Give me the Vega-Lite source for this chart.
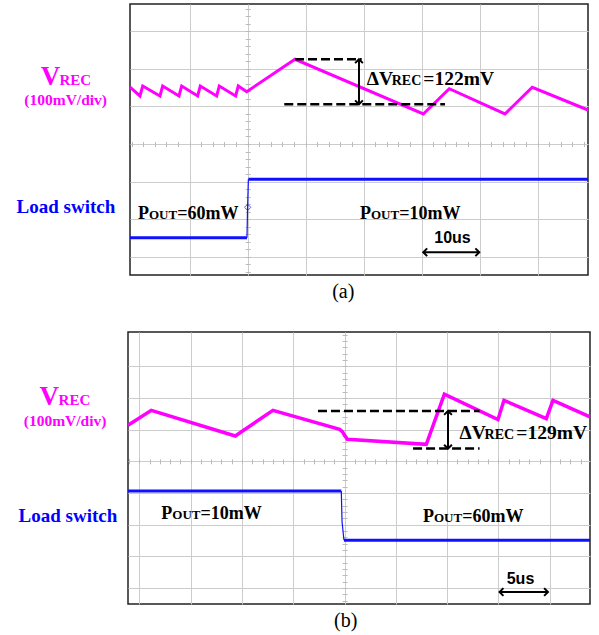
{
  "$schema": "https://vega.github.io/schema/vega-lite/v6.json",
  "padding": {"left": 15, "top": 3, "right": 0, "bottom": 0},
  "background": "white",
  "bounds": "flush",
  "center": true,
  "spacing": 57,
  "config": {
    "view": {"stroke": "#222222", "strokeWidth": 1.5},
    "axis": {"domain": false, "labels": false, "ticks": false, "grid": false, "gridColor": "#cccccc", "gridWidth": 1, "gridOpacity": 1, "tickColor": "#bbbbbb", "tickWidth": 1}
  },
  "vconcat": [
    {
      "width": 458,
      "height": 271,
      "encoding": {
        "x": {"field": "x", "type": "quantitative", "scale": {"domain": [-2.029, 5.868], "nice": false, "zero": false}, "axis": null},
        "y": {"field": "y", "type": "quantitative", "scale": {"domain": [-3.484, 3.723], "nice": false, "zero": false}, "axis": null}
      },
      "layer": [
        {
          "data": {"values": [
            {"x": -2.029, "y": 1.51}, {"x": -1.857, "y": 1.277}, {"x": -1.81, "y": 1.543}, {"x": -1.512, "y": 1.277}, {"x": -1.466, "y": 1.543},
            {"x": -1.184, "y": 1.277}, {"x": -1.138, "y": 1.543}, {"x": -0.862, "y": 1.277}, {"x": -0.817, "y": 1.543}, {"x": -0.534, "y": 1.277},
            {"x": -0.49, "y": 1.543}, {"x": -0.207, "y": 1.277}, {"x": -0.162, "y": 1.543}, {"x": -0.017, "y": 1.391}, {"x": 0.816, "y": 2.253},
            {"x": 3.028, "y": 0.798}, {"x": 3.476, "y": 1.471}, {"x": 4.436, "y": 0.798}, {"x": 4.907, "y": 1.508}, {"x": 5.868, "y": 0.904}
          ]},
          "mark": {"type": "line", "color": "#ff00ff", "strokeWidth": 3},
          "encoding": {
            "x": {"field": "x", "type": "quantitative", "scale": {"domain": [-2.029, 5.868], "nice": false, "zero": false}, "axis": {"grid": true, "title": null, "values": [-1, 0, 1, 2, 3, 4, 5]}},
            "y": {"field": "y", "type": "quantitative", "scale": {"domain": [-3.484, 3.723], "nice": false, "zero": false}, "axis": {"grid": true, "title": null, "values": [-3, -2, -1, 0, 1, 2, 3]}}
          }
        },
        {
          "data": {"values": [
            {"x": -2.029, "y": -2.492, "s": "lo"}, {"x": -0.012, "y": -2.492, "s": "lo"},
            {"x": 0.012, "y": -0.94, "s": "hi"}, {"x": 5.868, "y": -0.94, "s": "hi"}
          ]},
          "mark": {"type": "line", "color": "#1010ff", "strokeWidth": 3},
          "encoding": {
            "detail": {"field": "s"},
            "x": {"field": "x", "type": "quantitative", "scale": {"domain": [-2.029, 5.868], "nice": false, "zero": false},
              "axis": {"orient": "bottom", "offset": -133.5, "ticks": true, "tickSize": 5, "title": null,
                "values": [-2, -1.8, -1.6, -1.4, -1.2, -1, -0.8, -0.6, -0.4, -0.2, 0, 0.2, 0.4, 0.6, 0.8, 1, 1.2, 1.4, 1.6, 1.8, 2, 2.2, 2.4, 2.6, 2.8, 3, 3.2, 3.4, 3.6, 3.8, 4, 4.2, 4.4, 4.6, 4.8, 5, 5.2, 5.4, 5.6, 5.8]}},
            "y": {"field": "y", "type": "quantitative", "scale": {"domain": [-3.484, 3.723], "nice": false, "zero": false},
              "axis": {"orient": "left", "offset": -120.2, "ticks": true, "tickSize": 5, "title": null,
                "values": [-3.4, -3.2, -3, -2.8, -2.6, -2.4, -2.2, -2, -1.8, -1.6, -1.4, -1.2, -1, -0.8, -0.6, -0.4, -0.2, 0, 0.2, 0.4, 0.6, 0.8, 1, 1.2, 1.4, 1.6, 1.8, 2, 2.2, 2.4, 2.6, 2.8, 3, 3.2, 3.4, 3.6]}}
          }
        },
        {
          "data": {"values": [{"x": -0.012, "y": -2.492}, {"x": -0.002, "y": -1.7}, {"x": 0.012, "y": -0.94}]},
          "mark": {"type": "line", "color": "#1010ff", "strokeWidth": 1.2},
          "encoding": {}
        },
        {
          "data": {"values": [{"x": 0.0, "y": -1.684}]},
          "mark": {"type": "point", "shape": "diamond", "filled": false, "color": "#1010ff", "strokeWidth": 1, "size": 40},
          "encoding": {}
        },
        {
          "data": {"values": [{"x": 0.816, "x2": 1.966, "y": 2.253}, {"x": 0.631, "x2": 3.402, "y": 1.056}]},
          "mark": {"type": "rule", "color": "#000000", "strokeWidth": 2.5, "strokeDash": [9, 4]},
          "encoding": {"x2": {"field": "x2"}}
        },
        {
          "data": {"values": [{"x": 1.919, "x2": 1.919, "y": 2.253, "y2": 1.056}, {"x": 3.028, "x2": 3.993, "y": -2.88, "y2": -2.88}]},
          "mark": {"type": "rule", "color": "#000000", "strokeWidth": 2},
          "encoding": {"x2": {"field": "x2"}, "y2": {"field": "y2"}}
        },
        {
          "data": {"values": [{"x": 1.919, "y": 2.253, "d": "up"}, {"x": 1.919, "y": 1.056, "d": "down"}, {"x": 3.028, "y": -2.88, "d": "left"}, {"x": 3.993, "y": -2.88, "d": "right"}]},
          "mark": {"type": "point", "filled": false, "color": "#000000", "strokeWidth": 2, "size": 60, "opacity": 1},
          "encoding": {"shape": {"field": "d", "type": "nominal", "legend": null, "scale": {"domain": ["up", "down", "left", "right"], "range": ["M-1,1L0,0L1,1", "M-1,-1L0,0L1,-1", "M1,-1L0,0L1,1", "M-1,-1L0,0L-1,1"]}}}
        },
        {
          "data": {"values": [{"x": -3.569, "y": 1.569, "t": "V"}]},
          "mark": {"type": "text", "font": "Liberation Serif", "fontWeight": "bold", "fontSize": 27, "color": "#ff00ff", "align": "left", "baseline": "alphabetic"},
          "encoding": {"text": {"field": "t"}}
        },
        {
          "data": {"values": [{"x": -3.245, "y": 1.569, "t": "REC"}]},
          "mark": {"type": "text", "font": "Liberation Serif", "fontWeight": "bold", "fontSize": 15, "color": "#ff00ff", "align": "left", "baseline": "alphabetic"},
          "encoding": {"text": {"field": "t"}}
        },
        {
          "data": {"values": [{"x": -3.138, "y": 1.05, "t": "(100mV/div)"}]},
          "mark": {"type": "text", "font": "Liberation Serif", "fontWeight": "bold", "fontSize": 15.5, "color": "#ff00ff", "align": "center", "baseline": "alphabetic"},
          "encoding": {"text": {"field": "t"}}
        },
        {
          "data": {"values": [{"x": -3.133, "y": -1.848, "t": "Load switch"}]},
          "mark": {"type": "text", "font": "Liberation Serif", "fontWeight": "bold", "fontSize": 19, "color": "#0000ff", "align": "center", "baseline": "alphabetic"},
          "encoding": {"text": {"field": "t"}}
        },
        {
          "data": {"values": [{"x": 2.052, "y": 1.569, "t": "ΔV"}, {"x": 3.028, "y": 1.569, "t": "=122mV"}]},
          "mark": {"type": "text", "font": "Liberation Serif", "fontWeight": "bold", "fontSize": 19.5, "color": "#000000", "align": "left", "baseline": "alphabetic"},
          "encoding": {"text": {"field": "t"}}
        },
        {
          "data": {"values": [{"x": 2.483, "y": 1.569, "t": "REC"}]},
          "mark": {"type": "text", "font": "Liberation Serif", "fontWeight": "bold", "fontSize": 14, "color": "#000000", "align": "left", "baseline": "alphabetic"},
          "encoding": {"text": {"field": "t"}}
        },
        {
          "data": {"values": [{"x": -1.891, "y": -1.995, "t": "P"}, {"x": -1.216, "y": -1.995, "t": "=60mW"}, {"x": 1.936, "y": -1.995, "t": "P"}, {"x": 2.612, "y": -1.995, "t": "=10mW"}]},
          "mark": {"type": "text", "font": "Liberation Serif", "fontWeight": "bold", "fontSize": 18, "color": "#000000", "align": "left", "baseline": "alphabetic"},
          "encoding": {"text": {"field": "t"}}
        },
        {
          "data": {"values": [{"x": -1.702, "y": -1.995, "t": "OUT"}, {"x": 2.126, "y": -1.995, "t": "OUT"}]},
          "mark": {"type": "text", "font": "Liberation Serif", "fontWeight": "bold", "fontSize": 13, "color": "#000000", "align": "left", "baseline": "alphabetic"},
          "encoding": {"text": {"field": "t"}}
        },
        {
          "data": {"values": [{"x": 3.531, "y": -2.641, "t": "10us"}]},
          "mark": {"type": "text", "font": "Liberation Sans", "fontWeight": "bold", "fontSize": 16, "color": "#000000", "align": "center", "baseline": "alphabetic"},
          "encoding": {"text": {"field": "t"}}
        },
        {
          "data": {"values": [{"x": 1.648, "y": -4.096, "t": "(a)"}]},
          "mark": {"type": "text", "font": "Liberation Serif", "fontSize": 20, "color": "#000000", "align": "center", "baseline": "alphabetic"},
          "encoding": {"text": {"field": "t"}}
        }
      ],
      "resolve": {"axis": {"x": "independent", "y": "independent"}}
    },
    {
      "width": 462,
      "height": 272,
      "encoding": {
        "x": {"field": "x", "type": "quantitative", "scale": {"domain": [-4.222, 4.784], "nice": false, "zero": false}, "axis": null},
        "y": {"field": "y", "type": "quantitative", "scale": {"domain": [-4.502, 4.079], "nice": false, "zero": false}, "axis": null}
      },
      "layer": [
        {
          "data": {"values": [
            {"x": -4.222, "y": 1.136}, {"x": -3.768, "y": 1.609}, {"x": -2.131, "y": 0.798}, {"x": -1.396, "y": 1.609}, {"x": -0.097, "y": 1.009},
            {"x": -0.04, "y": 0.93}, {"x": -0.012, "y": 0.85}, {"x": 0.053, "y": 0.694}, {"x": 1.593, "y": 0.536}, {"x": 1.945, "y": 2.12},
            {"x": 2.99, "y": 1.315}, {"x": 3.107, "y": 1.924}, {"x": 3.932, "y": 1.347}, {"x": 4.062, "y": 1.924}, {"x": 4.784, "y": 1.4}
          ]},
          "mark": {"type": "line", "color": "#ff00ff", "strokeWidth": 3.5},
          "encoding": {
            "x": {"field": "x", "type": "quantitative", "scale": {"domain": [-4.222, 4.784], "nice": false, "zero": false}, "axis": {"grid": true, "title": null, "values": [-4, -3, -2, -1, 0, 1, 2, 3, 4]}},
            "y": {"field": "y", "type": "quantitative", "scale": {"domain": [-4.502, 4.079], "nice": false, "zero": false}, "axis": {"grid": true, "title": null, "values": [-4, -3, -2, -1, 0, 1, 2, 3]}}
          }
        },
        {
          "data": {"values": [
            {"x": -4.222, "y": -0.937, "s": "hi"}, {"x": -0.064, "y": -0.937, "s": "hi"},
            {"x": -0.012, "y": -2.492, "s": "lo"}, {"x": 4.784, "y": -2.492, "s": "lo"}
          ]},
          "mark": {"type": "line", "color": "#1010ff", "strokeWidth": 3},
          "encoding": {
            "detail": {"field": "s"},
            "x": {"field": "x", "type": "quantitative", "scale": {"domain": [-4.222, 4.784], "nice": false, "zero": false},
              "axis": {"orient": "bottom", "offset": -145.2, "ticks": true, "tickSize": 5, "title": null,
                "values": [-4.2, -4, -3.8, -3.6, -3.4, -3.2, -3, -2.8, -2.6, -2.4, -2.2, -2, -1.8, -1.6, -1.4, -1.2, -1, -0.8, -0.6, -0.4, -0.2, 0, 0.2, 0.4, 0.6, 0.8, 1, 1.2, 1.4, 1.6, 1.8, 2, 2.2, 2.4, 2.6, 2.8, 3, 3.2, 3.4, 3.6, 3.8, 4, 4.2, 4.4, 4.6]}},
            "y": {"field": "y", "type": "quantitative", "scale": {"domain": [-4.502, 4.079], "nice": false, "zero": false},
              "axis": {"orient": "left", "offset": -219.1, "ticks": true, "tickSize": 5, "title": null,
                "values": [-4.4, -4.2, -4, -3.8, -3.6, -3.4, -3.2, -3, -2.8, -2.6, -2.4, -2.2, -2, -1.8, -1.6, -1.4, -1.2, -1, -0.8, -0.6, -0.4, -0.2, 0, 0.2, 0.4, 0.6, 0.8, 1, 1.2, 1.4, 1.6, 1.8, 2, 2.2, 2.4, 2.6, 2.8, 3, 3.2, 3.4, 3.6, 3.8, 4]}}
          }
        },
        {
          "data": {"values": [{"x": -0.064, "y": -0.937}, {"x": -0.05, "y": -1.9}, {"x": -0.012, "y": -2.492}]},
          "mark": {"type": "line", "color": "#1010ff", "strokeWidth": 1.2},
          "encoding": {}
        },
        {
          "data": {"values": [{"x": -0.519, "x2": 2.631, "y": 1.587}, {"x": 1.335, "x2": 2.631, "y": 0.401}]},
          "mark": {"type": "rule", "color": "#000000", "strokeWidth": 2.5, "strokeDash": [9, 4]},
          "encoding": {"x2": {"field": "x2"}}
        },
        {
          "data": {"values": [{"x": 2.016, "x2": 2.016, "y": 1.587, "y2": 0.401}, {"x": 3.021, "x2": 3.965, "y": -4.123, "y2": -4.123}]},
          "mark": {"type": "rule", "color": "#000000", "strokeWidth": 2},
          "encoding": {"x2": {"field": "x2"}, "y2": {"field": "y2"}}
        },
        {
          "data": {"values": [{"x": 2.016, "y": 1.587, "d": "up"}, {"x": 2.016, "y": 0.401, "d": "down"}, {"x": 3.021, "y": -4.123, "d": "left"}, {"x": 3.965, "y": -4.123, "d": "right"}]},
          "mark": {"type": "point", "filled": false, "color": "#000000", "strokeWidth": 2, "size": 60, "opacity": 1},
          "encoding": {"shape": {"field": "d", "type": "nominal", "legend": null, "scale": {"domain": ["up", "down", "left", "right"], "range": ["M-1,1L0,0L1,1", "M-1,-1L0,0L1,-1", "M1,-1L0,0L1,1", "M-1,-1L0,0L-1,1"]}}}
        },
        {
          "data": {"values": [{"x": -5.945, "y": 1.789, "t": "V"}]},
          "mark": {"type": "text", "font": "Liberation Serif", "fontWeight": "bold", "fontSize": 27, "color": "#ff00ff", "align": "left", "baseline": "alphabetic"},
          "encoding": {"text": {"field": "t"}}
        },
        {
          "data": {"values": [{"x": -5.575, "y": 1.789, "t": "REC"}]},
          "mark": {"type": "text", "font": "Liberation Serif", "fontWeight": "bold", "fontSize": 15, "color": "#ff00ff", "align": "left", "baseline": "alphabetic"},
          "encoding": {"text": {"field": "t"}}
        },
        {
          "data": {"values": [{"x": -5.448, "y": 1.104, "t": "(100mV/div)"}]},
          "mark": {"type": "text", "font": "Liberation Serif", "fontWeight": "bold", "fontSize": 15.5, "color": "#ff00ff", "align": "center", "baseline": "alphabetic"},
          "encoding": {"text": {"field": "t"}}
        },
        {
          "data": {"values": [{"x": -5.392, "y": -1.924, "t": "Load switch"}]},
          "mark": {"type": "text", "font": "Liberation Serif", "fontWeight": "bold", "fontSize": 19, "color": "#0000ff", "align": "center", "baseline": "alphabetic"},
          "encoding": {"text": {"field": "t"}}
        },
        {
          "data": {"values": [{"x": 2.242, "y": 0.716, "t": "ΔV"}, {"x": 3.347, "y": 0.716, "t": "=129mV"}]},
          "mark": {"type": "text", "font": "Liberation Serif", "fontWeight": "bold", "fontSize": 19.5, "color": "#000000", "align": "left", "baseline": "alphabetic"},
          "encoding": {"text": {"field": "t"}}
        },
        {
          "data": {"values": [{"x": 2.729, "y": 0.716, "t": "REC"}]},
          "mark": {"type": "text", "font": "Liberation Serif", "fontWeight": "bold", "fontSize": 14, "color": "#000000", "align": "left", "baseline": "alphabetic"},
          "encoding": {"text": {"field": "t"}}
        },
        {
          "data": {"values": [{"x": -3.573, "y": -1.83, "t": "P"}, {"x": -2.809, "y": -1.83, "t": "=10mW"}, {"x": 1.528, "y": -1.915, "t": "P"}, {"x": 2.292, "y": -1.915, "t": "=60mW"}]},
          "mark": {"type": "text", "font": "Liberation Serif", "fontWeight": "bold", "fontSize": 18, "color": "#000000", "align": "left", "baseline": "alphabetic"},
          "encoding": {"text": {"field": "t"}}
        },
        {
          "data": {"values": [{"x": -3.358, "y": -1.83, "t": "OUT"}, {"x": 1.743, "y": -1.915, "t": "OUT"}]},
          "mark": {"type": "text", "font": "Liberation Serif", "fontWeight": "bold", "fontSize": 13, "color": "#000000", "align": "left", "baseline": "alphabetic"},
          "encoding": {"text": {"field": "t"}}
        },
        {
          "data": {"values": [{"x": 3.429, "y": -3.858, "t": "5us"}]},
          "mark": {"type": "text", "font": "Liberation Sans", "fontWeight": "bold", "fontSize": 16, "color": "#000000", "align": "center", "baseline": "alphabetic"},
          "encoding": {"text": {"field": "t"}}
        },
        {
          "data": {"values": [{"x": 0.023, "y": -5.237, "t": "(b)"}]},
          "mark": {"type": "text", "font": "Liberation Serif", "fontSize": 20, "color": "#000000", "align": "center", "baseline": "alphabetic"},
          "encoding": {"text": {"field": "t"}}
        }
      ],
      "resolve": {"axis": {"x": "independent", "y": "independent"}}
    }
  ]
}
